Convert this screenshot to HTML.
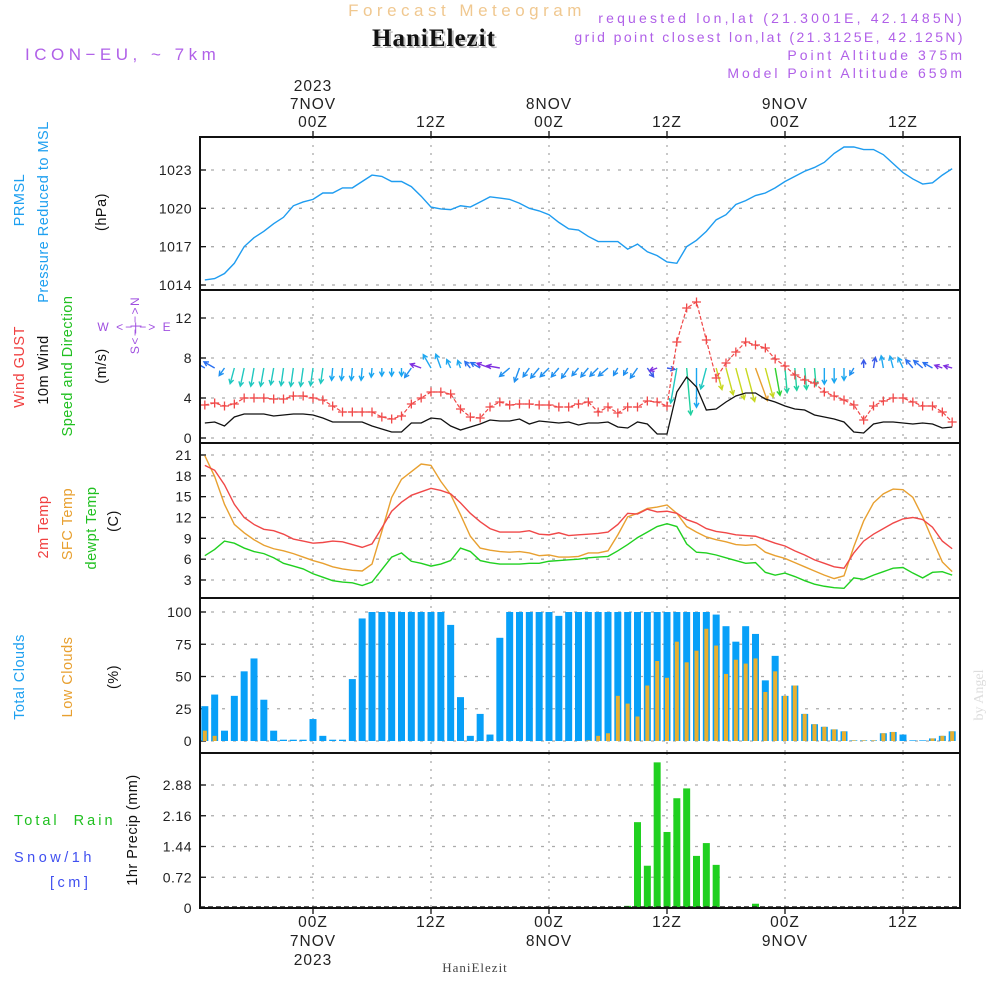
<!DOCTYPE html>
<html><head><meta charset="utf-8"><style>
html,body{margin:0;padding:0;background:#fff;}
svg{display:block;font-family:"Liberation Sans",sans-serif;}
</style></head><body>
<svg id="chart" width="1000" height="1000" viewBox="0 0 1000 1000" xmlns="http://www.w3.org/2000/svg">
<g id="hdr">
<text x="467" y="16" text-anchor="middle" font-size="17" fill="#f0c890" letter-spacing="4.5">Forecast Meteogram</text>
<text x="436" y="48" text-anchor="middle" font-size="25" font-weight="bold" font-family="Liberation Serif, serif" fill="#bbb" letter-spacing="1">HaniElezit</text>
<text x="434" y="46" text-anchor="middle" font-size="25" font-weight="bold" font-family="Liberation Serif, serif" fill="#111" letter-spacing="1">HaniElezit</text>
<text x="965" y="23" text-anchor="end" font-size="14" fill="#b060e8" letter-spacing="3.2">requested lon,lat (21.3001E, 42.1485N)</text>
<text x="965" y="42" text-anchor="end" font-size="14" fill="#b060e8" letter-spacing="2.4">grid point closest lon,lat (21.3125E, 42.125N)</text>
<text x="965" y="60" text-anchor="end" font-size="14" fill="#b060e8" letter-spacing="3">Point Altitude 375m</text>
<text x="965" y="78" text-anchor="end" font-size="14" fill="#b060e8" letter-spacing="3">Model Point Altitude 659m</text>
<text x="25" y="60" font-size="17" fill="#b060e8" letter-spacing="4.5">ICON−EU, ~ 7km</text>
<text x="475" y="972" text-anchor="middle" font-size="13" font-family="Liberation Serif, serif" fill="#444" letter-spacing="1">HaniElezit</text>
<text transform="translate(983,695) rotate(-90)" text-anchor="middle" font-size="14" font-family="Liberation Serif, serif" fill="#ddd">by Angel</text>
</g>
<g id="labels" font-size="14.5" letter-spacing="0.5">
<text transform="translate(24,200) rotate(-90)" text-anchor="middle" fill="#1ea0f0">PRMSL</text>
<text transform="translate(48,212) rotate(-90)" text-anchor="middle" fill="#1ea0f0">Pressure Reduced to MSL</text>
<text transform="translate(106,212) rotate(-90)" text-anchor="middle" fill="#111">(hPa)</text>
<text transform="translate(24,367) rotate(-90)" text-anchor="middle" fill="#f04040">Wind GUST</text>
<text transform="translate(48,370) rotate(-90)" text-anchor="middle" fill="#111">10m Wind</text>
<text transform="translate(72,366) rotate(-90)" text-anchor="middle" fill="#20c020">Speed and Direction</text>
<text transform="translate(106,366) rotate(-90)" text-anchor="middle" fill="#111">(m/s)</text>
<text x="135" y="331" text-anchor="middle" font-size="12" fill="#a050e0" letter-spacing="2">W &lt;−|−&gt; E</text>
<text transform="translate(139,325) rotate(-90)" text-anchor="middle" font-size="12" fill="#a050e0" letter-spacing="1.5">S&lt;−|−&gt;N</text>
<text transform="translate(48,527) rotate(-90)" text-anchor="middle" fill="#f04040">2m Temp</text>
<text transform="translate(72,524) rotate(-90)" text-anchor="middle" fill="#e8a030">SFC Temp</text>
<text transform="translate(96,528) rotate(-90)" text-anchor="middle" fill="#20c020">dewpt Temp</text>
<text transform="translate(118,521) rotate(-90)" text-anchor="middle" fill="#111">(C)</text>
<text transform="translate(24,677) rotate(-90)" text-anchor="middle" fill="#1ea0f0">Total Clouds</text>
<text transform="translate(72,677) rotate(-90)" text-anchor="middle" fill="#e8a030">Low Clouds</text>
<text transform="translate(118,677) rotate(-90)" text-anchor="middle" fill="#111">(%)</text>
<text x="14" y="825" fill="#20c020" letter-spacing="3" xml:space="preserve">Total  Rain</text>
<text x="14" y="862" fill="#4050f0" letter-spacing="3.5">Snow/1h</text>
<text x="50" y="887" fill="#4050f0" letter-spacing="3.5">[cm]</text>
<text transform="translate(137,830) rotate(-90)" text-anchor="middle" fill="#111">1hr Precip (mm)</text>
</g>
<g id="plot"></g>
</svg>
<script>
const timeTicks=[0,12,24,36,48,60];
const timeLabels=["00Z","12Z","00Z","12Z","00Z","12Z"];
const dayLabels=["7NOV","","8NOV","","9NOV",""];
const yearLabels=["2023","","","","",""];
const pressure=[1014.4,1014.5,1014.9,1015.7,1017.0,1017.7,1018.2,1018.8,1019.3,1020.2,1020.5,1020.7,1021.2,1021.2,1021.6,1021.6,1022.1,1022.6,1022.5,1022.1,1022.1,1021.7,1020.95,1020.1,1019.95,1019.9,1020.2,1020.1,1020.5,1020.9,1020.8,1020.7,1020.4,1020.0,1019.8,1019.5,1018.9,1018.4,1018.3,1017.8,1017.4,1017.4,1017.4,1016.8,1017.2,1016.6,1016.3,1015.8,1015.7,1017.0,1017.5,1018.2,1019.1,1019.5,1020.3,1020.6,1021.0,1021.2,1021.6,1022.1,1022.5,1022.9,1023.2,1023.6,1024.3,1024.8,1024.8,1024.6,1024.6,1024.2,1023.5,1022.8,1022.3,1021.9,1022.0,1022.6,1023.1];
const gust=[3.3,3.5,3.2,3.4,4.0,4.0,4.0,3.9,3.9,4.2,4.2,4.0,3.8,3.2,2.6,2.6,2.6,2.6,2.1,1.9,2.2,3.4,4.0,4.6,4.6,4.4,2.9,2.1,2.0,3.1,3.6,3.3,3.4,3.4,3.3,3.3,3.1,3.1,3.4,3.6,2.6,3.1,2.5,3.1,3.1,3.7,3.6,3.2,9.6,13.0,13.6,9.8,6.0,7.5,8.6,9.6,9.3,9.0,7.9,7.2,6.3,5.8,5.5,4.6,4.2,3.8,3.3,1.8,3.2,3.7,4.0,4.0,3.6,3.2,3.2,2.6,1.6];
const wind=[1.5,1.6,1.2,2.1,2.4,2.4,2.4,2.2,2.3,2.4,2.4,2.3,2.0,1.6,1.6,1.6,1.6,1.2,0.9,0.6,0.6,1.5,1.5,2.0,1.9,1.2,0.8,1.1,1.4,1.8,1.7,1.7,1.9,1.4,1.7,1.6,1.5,1.6,1.3,1.5,1.5,1.6,1.1,1.0,1.6,1.4,0.4,0.4,4.6,6.1,5.1,2.8,2.9,3.6,4.2,4.5,4.5,3.9,3.6,3.2,2.9,2.8,2.3,2.1,1.9,1.6,0.6,0.5,1.4,1.6,1.6,1.5,1.4,1.5,1.4,1.0,1.1];
const windDir=[300,300,215,195,192,190,190,190,188,188,188,188,188,185,185,185,185,185,180,180,180,215,290,330,340,335,340,320,300,290,280,230,200,215,220,225,220,215,220,220,225,230,210,210,215,145,250,100,190,175,180,195,165,165,165,165,160,165,170,175,175,175,175,180,180,180,210,0,10,350,345,335,320,310,300,290,285];
const temp2m=[19.5,18.8,16.7,13.9,12.0,11.0,10.3,10.1,9.6,8.9,8.6,8.3,8.4,8.6,8.5,8.1,7.7,8.2,10.5,12.9,14.2,15.2,15.7,16.2,15.9,15.4,14.1,12.6,11.4,10.4,9.9,9.9,9.9,10.1,9.6,9.5,9.8,9.4,9.5,9.6,9.7,9.9,11.0,12.6,12.5,13.2,12.8,12.9,12.6,11.7,11.2,10.4,10.0,9.8,9.5,9.4,9.3,8.8,8.3,7.9,7.2,6.6,5.9,5.4,4.9,4.7,6.9,8.6,9.6,10.4,11.2,11.8,12.0,11.7,10.6,8.6,7.5];
const sfcTemp=[20.9,17.9,13.9,11.0,9.8,8.8,8.0,7.5,7.2,6.8,6.3,5.8,5.4,4.9,4.6,4.4,4.3,5.3,10.0,14.9,17.5,18.6,19.7,19.5,17.2,15.3,12.4,9.3,7.6,7.3,7.1,7.0,7.1,6.9,6.5,6.6,6.3,6.3,6.4,6.9,6.9,7.2,9.5,12.1,12.6,13.3,13.5,13.8,12.6,10.7,9.9,9.2,8.8,8.5,8.1,8.0,8.1,7.0,6.5,6.1,5.5,4.9,4.3,3.7,3.2,3.6,7.8,11.5,14.1,15.4,16.1,16.0,14.9,12.1,8.8,5.6,4.2];
const dewpt=[6.5,7.4,8.6,8.3,7.6,7.1,6.8,6.2,5.4,5.0,4.6,3.9,3.4,2.9,2.7,2.6,2.2,2.7,4.5,6.3,6.9,5.7,5.4,5.0,5.3,5.8,7.6,7.1,5.8,5.5,5.3,5.3,5.3,5.4,5.4,5.7,5.8,5.9,6.0,6.2,6.3,6.4,7.2,8.1,9.1,9.9,10.7,11.1,10.7,8.2,7.0,6.9,6.6,6.2,5.8,5.4,5.5,4.1,3.7,4.0,3.5,2.9,2.4,2.1,1.9,1.8,3.3,3.1,3.7,4.2,4.7,4.8,4.0,3.3,4.1,4.2,3.7];
const totalClouds=[27,36,8,35,54,64,32,8,1,1,1,17,4,1,1,48,95,100,100,100,100,100,100,100,100,90,34,4,21,5,80,100,100,100,100,100,97,100,100,100,100,100,100,100,100,100,100,100,100,100,100,100,98,89,77,89,83,47,66,35,43,21,13,11,9,7.5,0.5,0.5,0.5,6,7,5,0.5,0.5,2,4,7.5];
const lowClouds=[8,4,0,0,0,0,0,0,0,0,0,0,0,0,0,0,0,0,0,0,0,0,0,0,0,0,0,0,0,0,0,0,0,0,0,0,0,0,0,0.5,4,6,35,29,19,43,62,49,77,61,70,87,74,52,63,60,64,38,54,35,43,21,13,11,9,7.5,0.5,0.5,0.5,6,7,0,0,0,2,4,7.5];
const precip=[0,0,0,0,0,0,0,0,0,0,0,0,0,0,0,0,0,0,0,0,0,0,0,0,0,0,0,0,0,0,0,0,0,0,0,0,0,0,0,0,0,0,0,0.05,2.01,0.99,3.41,1.78,2.57,2.80,1.22,1.52,1.01,0,0,0,0.1,0,0,0,0,0,0,0,0,0,0,0,0,0,0,0,0,0,0,0,0];
const pTicks=[1014,1017,1020,1023];
const wTicks=[0,4,8,12];
const tTicks=[3,6,9,12,15,18,21];
const cTicks=[0,25,50,75,100];
const rTicks=["0","0.72","1.44","2.16","2.88"];
const startHour=-11;

const NS="http://www.w3.org/2000/svg";
const plot=document.getElementById('plot');
const X0=200,X1=960;
const xs=h=>313+h*118/12;
const py=p=>285-(p-1014)*115/9;
const wy=v=>438-v*10;
const ty=t=>580-(t-3)*125/18;
const cy=c=>741-c*1.29;
const ry=m=>908-m*123/2.88;
const panels=[{t:137,b:290,ticks:pTicks,f:py,name:'pressure-panel'},{t:290,b:443,ticks:wTicks,f:wy,name:'wind-panel'},{t:443,b:598,ticks:tTicks,f:ty,name:'temperature-panel'},{t:598,b:753,ticks:cTicks,f:cy,name:'clouds-panel'},{t:753,b:908,ticks:rTicks.map(Number),f:ry,name:'precip-panel'}];
function mk(tag,attrs,parent){const e=document.createElementNS(NS,tag);for(const k in attrs)e.setAttribute(k,attrs[k]);(parent||plot).appendChild(e);return e;}
const hours=precip.map((_,i)=>startHour+i);

const defs=mk('defs',{});
const cp=mk('clipPath',{id:'clip'},defs);mk('rect',{x:X0,y:130,width:X1-X0,height:790},cp);

panels.forEach((P,pi)=>{
  const g=mk('g',{});
  
  
  P.ticks.forEach((v,i)=>{
    const y=P.f(v);
    const gl=mk('line',{x1:X0,x2:X1,y1:y,y2:y,stroke:'#aaa','stroke-width':1.3,'stroke-dasharray':'3,8'},g);
    
    
    mk('line',{x1:X0,x2:X0+6,y1:y,y2:y,stroke:'#111','stroke-width':1.3},g);
    const lbl=pi===4?rTicks[i]:String(v);
    const tx=mk('text',{x:192,y:y+5,'text-anchor':'end','font-size':14,fill:'#222','letter-spacing':0.5},g);
    tx.textContent=lbl;
    
    
  });
  timeTicks.forEach(h=>{
    const vl=mk('line',{x1:xs(h),x2:xs(h),y1:P.t,y2:P.b,stroke:'#aaa','stroke-width':1.3,'stroke-dasharray':'2,6'},g);
    
    
  });
});

const pl=mk('polyline',{points:pressure.map((p,i)=>xs(hours[i])+','+py(p)).join(' '),fill:'none',stroke:'#1e9cf0','stroke-width':1.4});



function dirColor(a){
  if(a<150)return '#3a5ae8';
  if(a<163)return '#e8a030';
  if(a<168)return '#c8d820';
  if(a<172)return '#30d030';
  if(a<178)return '#20d0a0';
  if(a<186)return '#1aa6f0';
  if(a<200)return '#20c8c0';
  if(a<245)return '#2090f0';
  if(a<296)return '#8030e0';
  if(a<330)return '#2a70f0';
  return '#20a8f0';
}
const ag=mk('g',{'clip-path':'url(#clip)'});


windDir.forEach((a,i)=>{
  const x=xs(hours[i]),y=368;
  const L=Math.max(8,wind[i]*7.7);
  const r=a*Math.PI/180;
  const dx=Math.sin(r),dy=-Math.cos(r);
  const ex=x+dx*L,ey=y+dy*L;
  const c=dirColor(a);
  const hl=5,ha=0.5;
  const b1x=ex-hl*(dx*Math.cos(ha)-dy*Math.sin(ha)),b1y=ey-hl*(dy*Math.cos(ha)+dx*Math.sin(ha));
  const b2x=ex-hl*(dx*Math.cos(-ha)-dy*Math.sin(-ha)),b2y=ey-hl*(dy*Math.cos(-ha)+dx*Math.sin(-ha));
  const p=mk('path',{d:`M${x},${y}L${ex},${ey}M${b1x},${b1y}L${ex},${ey}L${b2x},${b2y}`,stroke:c,'stroke-width':1.4,fill:'none'},ag);
  
  
});

const wl=mk('polyline',{points:wind.map((v,i)=>xs(hours[i])+','+wy(v)).join(' '),fill:'none',stroke:'#111','stroke-width':1.3});


const gl=mk('polyline',{points:gust.map((v,i)=>xs(hours[i])+','+wy(v)).join(' '),fill:'none',stroke:'#f04848','stroke-width':1.2,'stroke-dasharray':'4,2'});


gust.forEach((v,i)=>{
  const x=xs(hours[i]),y=wy(v);
  const m=mk('path',{d:`M${x-4.5},${y}H${x+4.5}M${x},${y-4.5}V${y+4.5}`,stroke:'#f04848','stroke-width':1.3});
  
  
});

[[sfcTemp,'#e8a030','sfc-temp-line'],[temp2m,'#f04848','temp-2m-line'],[dewpt,'#20d020','dewpoint-line']].forEach(([arr,c,n])=>{
  const l=mk('polyline',{points:arr.map((v,i)=>xs(hours[i])+','+ty(v)).join(' '),fill:'none',stroke:c,'stroke-width':1.4});
  
  
});

const cg=mk('g',{'clip-path':'url(#clip)'});
totalClouds.forEach((v,i)=>{
  const x=xs(hours[i]);
  const r=mk('rect',{x:x-3.5,y:cy(v),width:7,height:741-cy(v),fill:'#08a0f8'},cg);
  
  
});
lowClouds.forEach((v,i)=>{
  const x=xs(hours[i]);
  const r=mk('rect',{x:x-2,y:cy(v),width:4,height:741-cy(v),fill:'#e8b030'},cg);
  
  
});
precip.forEach((v,i)=>{
  if(v<=0)return;
  const x=xs(hours[i]);
  const r=mk('rect',{x:x-3.5,y:ry(v),width:7,height:908-ry(v),fill:'#20d020'});
  
  
});
const bl=mk('line',{x1:X0,x2:X1,y1:907,y2:907,stroke:'#222','stroke-width':1.5,'stroke-dasharray':'5,3'});



panels.forEach(P=>{
  const f=mk('rect',{x:X0,y:P.t,width:X1-X0,height:P.b-P.t,fill:'none',stroke:'#111','stroke-width':2});
  
  
});
timeTicks.forEach((h,i)=>{
  const x=xs(h);
  mk('line',{x1:x,x2:x,y1:131,y2:137,stroke:'#111','stroke-width':1.3});
  mk('line',{x1:x,x2:x,y1:908,y2:914,stroke:'#111','stroke-width':1.3});
  [[timeLabels[i],127],[dayLabels[i],109],[yearLabels[i],91],[timeLabels[i],927],[dayLabels[i],946],[yearLabels[i],965]].forEach(([s,y],k)=>{
    if(!s)return;
    const t=mk('text',{x:x,y:y,'text-anchor':'middle','font-size':15.5,fill:'#222','letter-spacing':1});
    t.textContent=s;
    
    
  });
});
</script>
</body></html>
